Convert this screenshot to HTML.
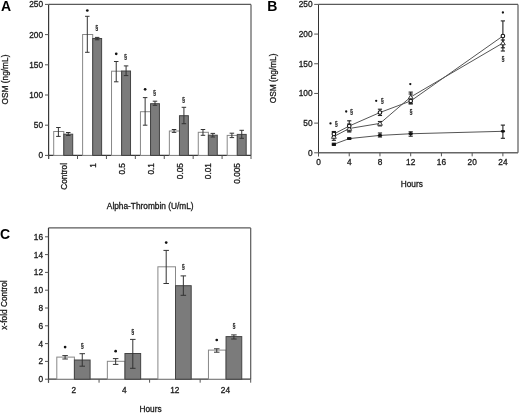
<!DOCTYPE html>
<html><head><meta charset="utf-8"><style>
html,body{margin:0;padding:0;background:#fff;}
svg{display:block;font-family:"Liberation Sans",sans-serif;filter:grayscale(1);}
</style></head><body>
<svg width="520" height="413" viewBox="0 0 520 413">
<rect width="520" height="413" fill="#fff"/>
<text x="0.90" y="11.30" font-size="14" font-weight="bold" text-anchor="start" fill="#000">A</text>
<line x1="48.60" y1="4.40" x2="251.00" y2="4.40" stroke="#5a5a5a" stroke-width="1.2"/>
<line x1="251.00" y1="4.40" x2="251.00" y2="155.40" stroke="#5a5a5a" stroke-width="1.2"/>
<line x1="48.60" y1="4.40" x2="48.60" y2="159.00" stroke="#383838" stroke-width="1.2"/>
<line x1="48.60" y1="155.40" x2="251.00" y2="155.40" stroke="#383838" stroke-width="1.2"/>
<line x1="45.00" y1="155.40" x2="48.60" y2="155.40" stroke="#555" stroke-width="1.0"/>
<text x="43.00" y="158.35" font-size="8.3" font-weight="normal" text-anchor="end" fill="#1a1a1a" stroke="#1a1a1a" stroke-width="0.3">0</text>
<line x1="45.00" y1="125.20" x2="48.60" y2="125.20" stroke="#555" stroke-width="1.0"/>
<text x="43.00" y="128.15" font-size="8.3" font-weight="normal" text-anchor="end" fill="#1a1a1a" stroke="#1a1a1a" stroke-width="0.3">50</text>
<line x1="45.00" y1="95.00" x2="48.60" y2="95.00" stroke="#555" stroke-width="1.0"/>
<text x="43.00" y="97.95" font-size="8.3" font-weight="normal" text-anchor="end" fill="#1a1a1a" stroke="#1a1a1a" stroke-width="0.3">100</text>
<line x1="45.00" y1="64.80" x2="48.60" y2="64.80" stroke="#555" stroke-width="1.0"/>
<text x="43.00" y="67.75" font-size="8.3" font-weight="normal" text-anchor="end" fill="#1a1a1a" stroke="#1a1a1a" stroke-width="0.3">150</text>
<line x1="45.00" y1="34.60" x2="48.60" y2="34.60" stroke="#555" stroke-width="1.0"/>
<text x="43.00" y="37.55" font-size="8.3" font-weight="normal" text-anchor="end" fill="#1a1a1a" stroke="#1a1a1a" stroke-width="0.3">200</text>
<line x1="45.00" y1="4.40" x2="48.60" y2="4.40" stroke="#555" stroke-width="1.0"/>
<text x="43.00" y="7.35" font-size="8.3" font-weight="normal" text-anchor="end" fill="#1a1a1a" stroke="#1a1a1a" stroke-width="0.3">250</text>
<line x1="48.60" y1="155.40" x2="48.60" y2="159.00" stroke="#555" stroke-width="1.0"/>
<line x1="77.51" y1="155.40" x2="77.51" y2="159.00" stroke="#555" stroke-width="1.0"/>
<line x1="106.43" y1="155.40" x2="106.43" y2="159.00" stroke="#555" stroke-width="1.0"/>
<line x1="135.34" y1="155.40" x2="135.34" y2="159.00" stroke="#555" stroke-width="1.0"/>
<line x1="164.26" y1="155.40" x2="164.26" y2="159.00" stroke="#555" stroke-width="1.0"/>
<line x1="193.17" y1="155.40" x2="193.17" y2="159.00" stroke="#555" stroke-width="1.0"/>
<line x1="222.09" y1="155.40" x2="222.09" y2="159.00" stroke="#555" stroke-width="1.0"/>
<line x1="251.00" y1="155.40" x2="251.00" y2="159.00" stroke="#555" stroke-width="1.0"/>
<text x="66.86" y="163.00" font-size="8.3" font-weight="normal" text-anchor="end" fill="#1a1a1a" stroke="#1a1a1a" stroke-width="0.3" transform="rotate(-90 66.86 163.00)">Control</text>
<text x="95.77" y="163.00" font-size="8.3" font-weight="normal" text-anchor="end" fill="#1a1a1a" stroke="#1a1a1a" stroke-width="0.3" transform="rotate(-90 95.77 163.00)">1</text>
<text x="124.69" y="163.00" font-size="8.3" font-weight="normal" text-anchor="end" fill="#1a1a1a" stroke="#1a1a1a" stroke-width="0.3" transform="rotate(-90 124.69 163.00)">0.5</text>
<text x="153.60" y="163.00" font-size="8.3" font-weight="normal" text-anchor="end" fill="#1a1a1a" stroke="#1a1a1a" stroke-width="0.3" transform="rotate(-90 153.60 163.00)">0.1</text>
<text x="182.51" y="163.00" font-size="8.3" font-weight="normal" text-anchor="end" fill="#1a1a1a" stroke="#1a1a1a" stroke-width="0.3" transform="rotate(-90 182.51 163.00)">0.05</text>
<text x="211.43" y="163.00" font-size="8.3" font-weight="normal" text-anchor="end" fill="#1a1a1a" stroke="#1a1a1a" stroke-width="0.3" transform="rotate(-90 211.43 163.00)">0.01</text>
<text x="240.34" y="163.00" font-size="8.3" font-weight="normal" text-anchor="end" fill="#1a1a1a" stroke="#1a1a1a" stroke-width="0.3" transform="rotate(-90 240.34 163.00)">0.005</text>
<text x="150.20" y="209.00" font-size="8.3" font-weight="normal" text-anchor="middle" fill="#1a1a1a" stroke="#1a1a1a" stroke-width="0.3">Alpha-Thrombin (U/mL)</text>
<text x="8.00" y="79.50" font-size="8.3" font-weight="normal" text-anchor="middle" fill="#1a1a1a" stroke="#1a1a1a" stroke-width="0.3" transform="rotate(-90 8.00 79.50)">OSM (ng/mL)</text>
<rect x="53.70" y="131.50" width="10.10" height="23.90" fill="#fff" stroke="#888" stroke-width="1.0"/>
<rect x="63.80" y="134.20" width="8.90" height="21.20" fill="#7b7b7b" stroke="#444" stroke-width="1.0"/>
<line x1="58.40" y1="127.50" x2="58.40" y2="136.40" stroke="#333" stroke-width="1.0"/>
<line x1="56.15" y1="127.50" x2="60.65" y2="127.50" stroke="#333" stroke-width="1.0"/>
<line x1="56.15" y1="136.40" x2="60.65" y2="136.40" stroke="#333" stroke-width="1.0"/>
<line x1="68.25" y1="132.50" x2="68.25" y2="135.50" stroke="#333" stroke-width="1.0"/>
<line x1="66.00" y1="132.50" x2="70.50" y2="132.50" stroke="#333" stroke-width="1.0"/>
<line x1="66.00" y1="135.50" x2="70.50" y2="135.50" stroke="#333" stroke-width="1.0"/>
<rect x="82.61" y="34.50" width="10.10" height="120.90" fill="#fff" stroke="#888" stroke-width="1.0"/>
<rect x="92.71" y="38.50" width="8.90" height="116.90" fill="#7b7b7b" stroke="#444" stroke-width="1.0"/>
<line x1="87.31" y1="16.30" x2="87.31" y2="52.30" stroke="#333" stroke-width="1.0"/>
<line x1="85.06" y1="16.30" x2="89.56" y2="16.30" stroke="#333" stroke-width="1.0"/>
<line x1="85.06" y1="52.30" x2="89.56" y2="52.30" stroke="#333" stroke-width="1.0"/>
<line x1="97.16" y1="37.40" x2="97.16" y2="39.80" stroke="#333" stroke-width="1.0"/>
<line x1="94.91" y1="37.40" x2="99.41" y2="37.40" stroke="#333" stroke-width="1.0"/>
<line x1="94.91" y1="39.80" x2="99.41" y2="39.80" stroke="#333" stroke-width="1.0"/>
<rect x="111.53" y="71.20" width="10.10" height="84.20" fill="#fff" stroke="#888" stroke-width="1.0"/>
<rect x="121.63" y="71.00" width="8.90" height="84.40" fill="#7b7b7b" stroke="#444" stroke-width="1.0"/>
<line x1="116.23" y1="61.50" x2="116.23" y2="81.80" stroke="#333" stroke-width="1.0"/>
<line x1="113.98" y1="61.50" x2="118.48" y2="61.50" stroke="#333" stroke-width="1.0"/>
<line x1="113.98" y1="81.80" x2="118.48" y2="81.80" stroke="#333" stroke-width="1.0"/>
<line x1="126.08" y1="65.90" x2="126.08" y2="75.60" stroke="#333" stroke-width="1.0"/>
<line x1="123.83" y1="65.90" x2="128.33" y2="65.90" stroke="#333" stroke-width="1.0"/>
<line x1="123.83" y1="75.60" x2="128.33" y2="75.60" stroke="#333" stroke-width="1.0"/>
<rect x="140.44" y="111.70" width="10.10" height="43.70" fill="#fff" stroke="#888" stroke-width="1.0"/>
<rect x="150.54" y="103.70" width="8.90" height="51.70" fill="#7b7b7b" stroke="#444" stroke-width="1.0"/>
<line x1="145.14" y1="97.60" x2="145.14" y2="125.20" stroke="#333" stroke-width="1.0"/>
<line x1="142.89" y1="97.60" x2="147.39" y2="97.60" stroke="#333" stroke-width="1.0"/>
<line x1="142.89" y1="125.20" x2="147.39" y2="125.20" stroke="#333" stroke-width="1.0"/>
<line x1="154.99" y1="101.20" x2="154.99" y2="105.30" stroke="#333" stroke-width="1.0"/>
<line x1="152.74" y1="101.20" x2="157.24" y2="101.20" stroke="#333" stroke-width="1.0"/>
<line x1="152.74" y1="105.30" x2="157.24" y2="105.30" stroke="#333" stroke-width="1.0"/>
<rect x="169.36" y="131.00" width="10.10" height="24.40" fill="#fff" stroke="#888" stroke-width="1.0"/>
<rect x="179.46" y="115.70" width="8.90" height="39.70" fill="#7b7b7b" stroke="#444" stroke-width="1.0"/>
<line x1="174.06" y1="129.50" x2="174.06" y2="132.40" stroke="#333" stroke-width="1.0"/>
<line x1="171.81" y1="129.50" x2="176.31" y2="129.50" stroke="#333" stroke-width="1.0"/>
<line x1="171.81" y1="132.40" x2="176.31" y2="132.40" stroke="#333" stroke-width="1.0"/>
<line x1="183.91" y1="107.30" x2="183.91" y2="123.70" stroke="#333" stroke-width="1.0"/>
<line x1="181.66" y1="107.30" x2="186.16" y2="107.30" stroke="#333" stroke-width="1.0"/>
<line x1="181.66" y1="123.70" x2="186.16" y2="123.70" stroke="#333" stroke-width="1.0"/>
<rect x="198.27" y="132.30" width="10.10" height="23.10" fill="#fff" stroke="#888" stroke-width="1.0"/>
<rect x="208.37" y="135.20" width="8.90" height="20.20" fill="#7b7b7b" stroke="#444" stroke-width="1.0"/>
<line x1="202.97" y1="129.50" x2="202.97" y2="135.30" stroke="#333" stroke-width="1.0"/>
<line x1="200.72" y1="129.50" x2="205.22" y2="129.50" stroke="#333" stroke-width="1.0"/>
<line x1="200.72" y1="135.30" x2="205.22" y2="135.30" stroke="#333" stroke-width="1.0"/>
<line x1="212.82" y1="133.40" x2="212.82" y2="137.00" stroke="#333" stroke-width="1.0"/>
<line x1="210.57" y1="133.40" x2="215.07" y2="133.40" stroke="#333" stroke-width="1.0"/>
<line x1="210.57" y1="137.00" x2="215.07" y2="137.00" stroke="#333" stroke-width="1.0"/>
<rect x="227.19" y="135.40" width="10.10" height="20.00" fill="#fff" stroke="#888" stroke-width="1.0"/>
<rect x="237.29" y="134.40" width="8.90" height="21.00" fill="#7b7b7b" stroke="#444" stroke-width="1.0"/>
<line x1="231.89" y1="133.20" x2="231.89" y2="137.60" stroke="#333" stroke-width="1.0"/>
<line x1="229.64" y1="133.20" x2="234.14" y2="133.20" stroke="#333" stroke-width="1.0"/>
<line x1="229.64" y1="137.60" x2="234.14" y2="137.60" stroke="#333" stroke-width="1.0"/>
<line x1="241.74" y1="130.30" x2="241.74" y2="138.30" stroke="#333" stroke-width="1.0"/>
<line x1="239.49" y1="130.30" x2="243.99" y2="130.30" stroke="#333" stroke-width="1.0"/>
<line x1="239.49" y1="138.30" x2="243.99" y2="138.30" stroke="#333" stroke-width="1.0"/>
<circle cx="87.31" cy="10.50" r="1.35" fill="#111"/>
<circle cx="116.23" cy="53.80" r="1.35" fill="#111"/>
<circle cx="145.14" cy="89.30" r="1.35" fill="#111"/>
<text transform="translate(96.66 30.04) scale(0.78 1)" x="0" y="0" font-size="7.0" text-anchor="middle" fill="#1a1a1a" stroke="#1a1a1a" stroke-width="0.25">§</text>
<text transform="translate(125.58 58.94) scale(0.78 1)" x="0" y="0" font-size="7.0" text-anchor="middle" fill="#1a1a1a" stroke="#1a1a1a" stroke-width="0.25">§</text>
<text transform="translate(154.49 95.44) scale(0.78 1)" x="0" y="0" font-size="7.0" text-anchor="middle" fill="#1a1a1a" stroke="#1a1a1a" stroke-width="0.25">§</text>
<text transform="translate(183.41 101.64) scale(0.78 1)" x="0" y="0" font-size="7.0" text-anchor="middle" fill="#1a1a1a" stroke="#1a1a1a" stroke-width="0.25">§</text>
<text x="267.30" y="11.20" font-size="14" font-weight="bold" text-anchor="start" fill="#000">B</text>
<line x1="318.50" y1="4.40" x2="518.00" y2="4.40" stroke="#5a5a5a" stroke-width="1.2"/>
<line x1="518.00" y1="4.40" x2="518.00" y2="152.80" stroke="#5a5a5a" stroke-width="1.2"/>
<line x1="318.50" y1="4.40" x2="318.50" y2="156.30" stroke="#333" stroke-width="1.0"/>
<line x1="318.50" y1="152.80" x2="518.00" y2="152.80" stroke="#666" stroke-width="1.5"/>
<line x1="314.20" y1="152.80" x2="318.50" y2="152.80" stroke="#555" stroke-width="1.0"/>
<text x="312.60" y="155.75" font-size="8.3" font-weight="normal" text-anchor="end" fill="#1a1a1a" stroke="#1a1a1a" stroke-width="0.3">0</text>
<line x1="314.20" y1="123.12" x2="318.50" y2="123.12" stroke="#555" stroke-width="1.0"/>
<text x="312.60" y="126.07" font-size="8.3" font-weight="normal" text-anchor="end" fill="#1a1a1a" stroke="#1a1a1a" stroke-width="0.3">50</text>
<line x1="314.20" y1="93.44" x2="318.50" y2="93.44" stroke="#555" stroke-width="1.0"/>
<text x="312.60" y="96.39" font-size="8.3" font-weight="normal" text-anchor="end" fill="#1a1a1a" stroke="#1a1a1a" stroke-width="0.3">100</text>
<line x1="314.20" y1="63.76" x2="318.50" y2="63.76" stroke="#555" stroke-width="1.0"/>
<text x="312.60" y="66.71" font-size="8.3" font-weight="normal" text-anchor="end" fill="#1a1a1a" stroke="#1a1a1a" stroke-width="0.3">150</text>
<line x1="314.20" y1="34.08" x2="318.50" y2="34.08" stroke="#555" stroke-width="1.0"/>
<text x="312.60" y="37.03" font-size="8.3" font-weight="normal" text-anchor="end" fill="#1a1a1a" stroke="#1a1a1a" stroke-width="0.3">200</text>
<line x1="314.20" y1="4.40" x2="318.50" y2="4.40" stroke="#555" stroke-width="1.0"/>
<text x="312.60" y="7.35" font-size="8.3" font-weight="normal" text-anchor="end" fill="#1a1a1a" stroke="#1a1a1a" stroke-width="0.3">250</text>
<line x1="318.50" y1="152.80" x2="318.50" y2="156.30" stroke="#555" stroke-width="1.0"/>
<text x="318.50" y="164.80" font-size="8.3" font-weight="normal" text-anchor="middle" fill="#1a1a1a" stroke="#1a1a1a" stroke-width="0.3">0</text>
<line x1="349.23" y1="152.80" x2="349.23" y2="156.30" stroke="#555" stroke-width="1.0"/>
<text x="349.23" y="164.80" font-size="8.3" font-weight="normal" text-anchor="middle" fill="#1a1a1a" stroke="#1a1a1a" stroke-width="0.3">4</text>
<line x1="379.96" y1="152.80" x2="379.96" y2="156.30" stroke="#555" stroke-width="1.0"/>
<text x="379.96" y="164.80" font-size="8.3" font-weight="normal" text-anchor="middle" fill="#1a1a1a" stroke="#1a1a1a" stroke-width="0.3">8</text>
<line x1="410.70" y1="152.80" x2="410.70" y2="156.30" stroke="#555" stroke-width="1.0"/>
<text x="410.70" y="164.80" font-size="8.3" font-weight="normal" text-anchor="middle" fill="#1a1a1a" stroke="#1a1a1a" stroke-width="0.3">12</text>
<line x1="441.43" y1="152.80" x2="441.43" y2="156.30" stroke="#555" stroke-width="1.0"/>
<text x="441.43" y="164.80" font-size="8.3" font-weight="normal" text-anchor="middle" fill="#1a1a1a" stroke="#1a1a1a" stroke-width="0.3">16</text>
<line x1="472.16" y1="152.80" x2="472.16" y2="156.30" stroke="#555" stroke-width="1.0"/>
<text x="472.16" y="164.80" font-size="8.3" font-weight="normal" text-anchor="middle" fill="#1a1a1a" stroke="#1a1a1a" stroke-width="0.3">20</text>
<line x1="502.89" y1="152.80" x2="502.89" y2="156.30" stroke="#555" stroke-width="1.0"/>
<text x="502.89" y="164.80" font-size="8.3" font-weight="normal" text-anchor="middle" fill="#1a1a1a" stroke="#1a1a1a" stroke-width="0.3">24</text>
<text x="411.80" y="186.50" font-size="8.3" font-weight="normal" text-anchor="middle" fill="#1a1a1a" stroke="#1a1a1a" stroke-width="0.3">Hours</text>
<text x="276.50" y="78.40" font-size="8.3" font-weight="normal" text-anchor="middle" fill="#1a1a1a" stroke="#1a1a1a" stroke-width="0.3" transform="rotate(-90 276.50 78.40)">OSM (ng/mL)</text>
<polyline fill="none" stroke="#555" stroke-width="1.0" points="333.87,134.00 349.23,126.00 379.96,112.50 410.70,101.00 502.89,36.00"/>
<polyline fill="none" stroke="#555" stroke-width="1.0" points="333.87,136.50 349.23,128.50 379.96,123.40 410.70,97.00 502.89,43.00"/>
<polyline fill="none" stroke="#555" stroke-width="1.0" points="333.87,144.30 349.23,138.60 379.96,135.40 410.70,133.75 502.89,131.30"/>
<line x1="333.87" y1="131.50" x2="333.87" y2="136.50" stroke="#222" stroke-width="1.1"/>
<line x1="331.77" y1="131.50" x2="335.97" y2="131.50" stroke="#222" stroke-width="1.1"/>
<line x1="331.77" y1="136.50" x2="335.97" y2="136.50" stroke="#222" stroke-width="1.1"/>
<line x1="349.23" y1="120.80" x2="349.23" y2="131.10" stroke="#222" stroke-width="1.1"/>
<line x1="347.13" y1="120.80" x2="351.33" y2="120.80" stroke="#222" stroke-width="1.1"/>
<line x1="347.13" y1="131.10" x2="351.33" y2="131.10" stroke="#222" stroke-width="1.1"/>
<line x1="379.96" y1="109.20" x2="379.96" y2="115.50" stroke="#222" stroke-width="1.1"/>
<line x1="377.86" y1="109.20" x2="382.06" y2="109.20" stroke="#222" stroke-width="1.1"/>
<line x1="377.86" y1="115.50" x2="382.06" y2="115.50" stroke="#222" stroke-width="1.1"/>
<line x1="410.70" y1="92.10" x2="410.70" y2="103.30" stroke="#222" stroke-width="1.1"/>
<line x1="408.60" y1="92.10" x2="412.80" y2="92.10" stroke="#222" stroke-width="1.1"/>
<line x1="408.60" y1="103.30" x2="412.80" y2="103.30" stroke="#222" stroke-width="1.1"/>
<line x1="502.89" y1="20.90" x2="502.89" y2="51.00" stroke="#222" stroke-width="1.1"/>
<line x1="500.79" y1="20.90" x2="504.99" y2="20.90" stroke="#222" stroke-width="1.1"/>
<line x1="500.79" y1="51.00" x2="504.99" y2="51.00" stroke="#222" stroke-width="1.1"/>
<line x1="333.87" y1="132.30" x2="333.87" y2="140.30" stroke="#222" stroke-width="1.1"/>
<line x1="331.77" y1="132.30" x2="335.97" y2="132.30" stroke="#222" stroke-width="1.1"/>
<line x1="331.77" y1="140.30" x2="335.97" y2="140.30" stroke="#222" stroke-width="1.1"/>
<line x1="349.23" y1="124.00" x2="349.23" y2="132.00" stroke="#222" stroke-width="1.1"/>
<line x1="347.13" y1="124.00" x2="351.33" y2="124.00" stroke="#222" stroke-width="1.1"/>
<line x1="347.13" y1="132.00" x2="351.33" y2="132.00" stroke="#222" stroke-width="1.1"/>
<line x1="379.96" y1="121.50" x2="379.96" y2="125.90" stroke="#222" stroke-width="1.1"/>
<line x1="377.86" y1="121.50" x2="382.06" y2="121.50" stroke="#222" stroke-width="1.1"/>
<line x1="377.86" y1="125.90" x2="382.06" y2="125.90" stroke="#222" stroke-width="1.1"/>
<line x1="410.70" y1="94.00" x2="410.70" y2="104.00" stroke="#222" stroke-width="1.1"/>
<line x1="408.60" y1="94.00" x2="412.80" y2="94.00" stroke="#222" stroke-width="1.1"/>
<line x1="408.60" y1="104.00" x2="412.80" y2="104.00" stroke="#222" stroke-width="1.1"/>
<line x1="502.89" y1="40.00" x2="502.89" y2="47.80" stroke="#222" stroke-width="1.1"/>
<line x1="500.79" y1="40.00" x2="504.99" y2="40.00" stroke="#222" stroke-width="1.1"/>
<line x1="500.79" y1="47.80" x2="504.99" y2="47.80" stroke="#222" stroke-width="1.1"/>
<line x1="333.87" y1="143.20" x2="333.87" y2="145.40" stroke="#222" stroke-width="1.1"/>
<line x1="331.77" y1="143.20" x2="335.97" y2="143.20" stroke="#222" stroke-width="1.1"/>
<line x1="331.77" y1="145.40" x2="335.97" y2="145.40" stroke="#222" stroke-width="1.1"/>
<line x1="349.23" y1="137.80" x2="349.23" y2="139.40" stroke="#222" stroke-width="1.1"/>
<line x1="347.13" y1="137.80" x2="351.33" y2="137.80" stroke="#222" stroke-width="1.1"/>
<line x1="347.13" y1="139.40" x2="351.33" y2="139.40" stroke="#222" stroke-width="1.1"/>
<line x1="379.96" y1="133.00" x2="379.96" y2="137.00" stroke="#222" stroke-width="1.1"/>
<line x1="377.86" y1="133.00" x2="382.06" y2="133.00" stroke="#222" stroke-width="1.1"/>
<line x1="377.86" y1="137.00" x2="382.06" y2="137.00" stroke="#222" stroke-width="1.1"/>
<line x1="410.70" y1="131.80" x2="410.70" y2="136.20" stroke="#222" stroke-width="1.1"/>
<line x1="408.60" y1="131.80" x2="412.80" y2="131.80" stroke="#222" stroke-width="1.1"/>
<line x1="408.60" y1="136.20" x2="412.80" y2="136.20" stroke="#222" stroke-width="1.1"/>
<line x1="502.89" y1="125.10" x2="502.89" y2="138.30" stroke="#222" stroke-width="1.1"/>
<line x1="500.79" y1="125.10" x2="504.99" y2="125.10" stroke="#222" stroke-width="1.1"/>
<line x1="500.79" y1="138.30" x2="504.99" y2="138.30" stroke="#222" stroke-width="1.1"/>
<polygon points="333.87,134.30 336.27,138.30 331.47,138.30" fill="#fff" stroke="#222" stroke-width="0.9"/>
<polygon points="349.23,126.30 351.63,130.30 346.83,130.30" fill="#fff" stroke="#222" stroke-width="0.9"/>
<polygon points="379.96,121.20 382.36,125.20 377.56,125.20" fill="#fff" stroke="#222" stroke-width="0.9"/>
<polygon points="410.70,94.80 413.10,98.80 408.30,98.80" fill="#fff" stroke="#222" stroke-width="0.9"/>
<polygon points="502.89,40.80 505.29,44.80 500.49,44.80" fill="#fff" stroke="#222" stroke-width="0.9"/>
<circle cx="333.87" cy="134.00" r="1.8" fill="#fff" stroke="#111" stroke-width="1.1"/>
<circle cx="349.23" cy="126.00" r="1.8" fill="#fff" stroke="#111" stroke-width="1.1"/>
<circle cx="379.96" cy="112.50" r="1.8" fill="#fff" stroke="#111" stroke-width="1.1"/>
<circle cx="410.70" cy="101.00" r="1.8" fill="#fff" stroke="#111" stroke-width="1.1"/>
<circle cx="502.89" cy="36.00" r="1.8" fill="#fff" stroke="#111" stroke-width="1.1"/>
<ellipse cx="333.87" cy="144.30" rx="2.3" ry="1.4" fill="#111"/>
<ellipse cx="349.23" cy="138.60" rx="2.3" ry="1.4" fill="#111"/>
<ellipse cx="379.96" cy="135.40" rx="2.3" ry="1.4" fill="#111"/>
<ellipse cx="410.70" cy="133.75" rx="2.3" ry="1.4" fill="#111"/>
<ellipse cx="502.89" cy="131.30" rx="2.3" ry="1.4" fill="#111"/>
<circle cx="330.50" cy="123.40" r="1.15" fill="#111"/>
<circle cx="346.20" cy="111.50" r="1.15" fill="#111"/>
<circle cx="376.20" cy="100.80" r="1.15" fill="#111"/>
<circle cx="410.30" cy="84.10" r="1.15" fill="#111"/>
<circle cx="502.90" cy="12.50" r="1.15" fill="#111"/>
<text transform="translate(336.30 125.64) scale(0.78 1)" x="0" y="0" font-size="7.0" text-anchor="middle" fill="#1a1a1a" stroke="#1a1a1a" stroke-width="0.25">§</text>
<text transform="translate(351.50 114.14) scale(0.78 1)" x="0" y="0" font-size="7.0" text-anchor="middle" fill="#1a1a1a" stroke="#1a1a1a" stroke-width="0.25">§</text>
<text transform="translate(382.30 102.84) scale(0.78 1)" x="0" y="0" font-size="7.0" text-anchor="middle" fill="#1a1a1a" stroke="#1a1a1a" stroke-width="0.25">§</text>
<text transform="translate(411.00 114.24) scale(0.78 1)" x="0" y="0" font-size="7.0" text-anchor="middle" fill="#1a1a1a" stroke="#1a1a1a" stroke-width="0.25">§</text>
<text transform="translate(502.90 61.44) scale(0.78 1)" x="0" y="0" font-size="7.0" text-anchor="middle" fill="#1a1a1a" stroke="#1a1a1a" stroke-width="0.25">§</text>
<text x="0.00" y="238.50" font-size="14" font-weight="bold" text-anchor="start" fill="#000">C</text>
<line x1="48.50" y1="227.90" x2="250.70" y2="227.90" stroke="#5a5a5a" stroke-width="1.2"/>
<line x1="250.70" y1="227.90" x2="250.70" y2="379.20" stroke="#5a5a5a" stroke-width="1.2"/>
<line x1="48.50" y1="227.90" x2="48.50" y2="382.70" stroke="#383838" stroke-width="1.2"/>
<line x1="48.50" y1="379.20" x2="250.70" y2="379.20" stroke="#383838" stroke-width="1.2"/>
<line x1="45.00" y1="379.20" x2="48.50" y2="379.20" stroke="#555" stroke-width="1.0"/>
<text x="43.00" y="382.15" font-size="8.3" font-weight="normal" text-anchor="end" fill="#1a1a1a" stroke="#1a1a1a" stroke-width="0.3">0</text>
<line x1="45.00" y1="361.40" x2="48.50" y2="361.40" stroke="#555" stroke-width="1.0"/>
<text x="43.00" y="364.35" font-size="8.3" font-weight="normal" text-anchor="end" fill="#1a1a1a" stroke="#1a1a1a" stroke-width="0.3">2</text>
<line x1="45.00" y1="343.60" x2="48.50" y2="343.60" stroke="#555" stroke-width="1.0"/>
<text x="43.00" y="346.55" font-size="8.3" font-weight="normal" text-anchor="end" fill="#1a1a1a" stroke="#1a1a1a" stroke-width="0.3">4</text>
<line x1="45.00" y1="325.80" x2="48.50" y2="325.80" stroke="#555" stroke-width="1.0"/>
<text x="43.00" y="328.75" font-size="8.3" font-weight="normal" text-anchor="end" fill="#1a1a1a" stroke="#1a1a1a" stroke-width="0.3">6</text>
<line x1="45.00" y1="308.00" x2="48.50" y2="308.00" stroke="#555" stroke-width="1.0"/>
<text x="43.00" y="310.95" font-size="8.3" font-weight="normal" text-anchor="end" fill="#1a1a1a" stroke="#1a1a1a" stroke-width="0.3">8</text>
<line x1="45.00" y1="290.20" x2="48.50" y2="290.20" stroke="#555" stroke-width="1.0"/>
<text x="43.00" y="293.15" font-size="8.3" font-weight="normal" text-anchor="end" fill="#1a1a1a" stroke="#1a1a1a" stroke-width="0.3">10</text>
<line x1="45.00" y1="272.40" x2="48.50" y2="272.40" stroke="#555" stroke-width="1.0"/>
<text x="43.00" y="275.35" font-size="8.3" font-weight="normal" text-anchor="end" fill="#1a1a1a" stroke="#1a1a1a" stroke-width="0.3">12</text>
<line x1="45.00" y1="254.60" x2="48.50" y2="254.60" stroke="#555" stroke-width="1.0"/>
<text x="43.00" y="257.55" font-size="8.3" font-weight="normal" text-anchor="end" fill="#1a1a1a" stroke="#1a1a1a" stroke-width="0.3">14</text>
<line x1="45.00" y1="236.80" x2="48.50" y2="236.80" stroke="#555" stroke-width="1.0"/>
<text x="43.00" y="239.75" font-size="8.3" font-weight="normal" text-anchor="end" fill="#1a1a1a" stroke="#1a1a1a" stroke-width="0.3">16</text>
<line x1="48.50" y1="379.20" x2="48.50" y2="382.70" stroke="#555" stroke-width="1.0"/>
<line x1="99.05" y1="379.20" x2="99.05" y2="382.70" stroke="#555" stroke-width="1.0"/>
<line x1="149.60" y1="379.20" x2="149.60" y2="382.70" stroke="#555" stroke-width="1.0"/>
<line x1="200.15" y1="379.20" x2="200.15" y2="382.70" stroke="#555" stroke-width="1.0"/>
<line x1="250.70" y1="379.20" x2="250.70" y2="382.70" stroke="#555" stroke-width="1.0"/>
<text x="73.78" y="392.80" font-size="8.3" font-weight="normal" text-anchor="middle" fill="#1a1a1a" stroke="#1a1a1a" stroke-width="0.3">2</text>
<text x="124.32" y="392.80" font-size="8.3" font-weight="normal" text-anchor="middle" fill="#1a1a1a" stroke="#1a1a1a" stroke-width="0.3">4</text>
<text x="174.88" y="392.80" font-size="8.3" font-weight="normal" text-anchor="middle" fill="#1a1a1a" stroke="#1a1a1a" stroke-width="0.3">12</text>
<text x="225.42" y="392.80" font-size="8.3" font-weight="normal" text-anchor="middle" fill="#1a1a1a" stroke="#1a1a1a" stroke-width="0.3">24</text>
<text x="150.50" y="411.50" font-size="8.3" font-weight="normal" text-anchor="middle" fill="#1a1a1a" stroke="#1a1a1a" stroke-width="0.3">Hours</text>
<text x="7.30" y="305.00" font-size="8.3" font-weight="normal" text-anchor="middle" fill="#1a1a1a" stroke="#1a1a1a" stroke-width="0.3" transform="rotate(-90 7.30 305.00)">x-fold Control</text>
<rect x="56.80" y="357.10" width="17.60" height="22.10" fill="#fff" stroke="#888" stroke-width="1.0"/>
<rect x="74.40" y="360.00" width="15.70" height="19.20" fill="#7b7b7b" stroke="#444" stroke-width="1.0"/>
<line x1="65.10" y1="355.60" x2="65.10" y2="359.00" stroke="#333" stroke-width="1.0"/>
<line x1="62.35" y1="355.60" x2="67.85" y2="355.60" stroke="#333" stroke-width="1.0"/>
<line x1="62.35" y1="359.00" x2="67.85" y2="359.00" stroke="#333" stroke-width="1.0"/>
<line x1="82.25" y1="353.70" x2="82.25" y2="366.20" stroke="#333" stroke-width="1.0"/>
<line x1="79.50" y1="353.70" x2="85.00" y2="353.70" stroke="#333" stroke-width="1.0"/>
<line x1="79.50" y1="366.20" x2="85.00" y2="366.20" stroke="#333" stroke-width="1.0"/>
<rect x="107.35" y="361.30" width="17.60" height="17.90" fill="#fff" stroke="#888" stroke-width="1.0"/>
<rect x="124.95" y="353.50" width="15.70" height="25.70" fill="#7b7b7b" stroke="#444" stroke-width="1.0"/>
<line x1="115.65" y1="358.60" x2="115.65" y2="364.40" stroke="#333" stroke-width="1.0"/>
<line x1="112.90" y1="358.60" x2="118.40" y2="358.60" stroke="#333" stroke-width="1.0"/>
<line x1="112.90" y1="364.40" x2="118.40" y2="364.40" stroke="#333" stroke-width="1.0"/>
<line x1="132.80" y1="339.40" x2="132.80" y2="368.30" stroke="#333" stroke-width="1.0"/>
<line x1="130.05" y1="339.40" x2="135.55" y2="339.40" stroke="#333" stroke-width="1.0"/>
<line x1="130.05" y1="368.30" x2="135.55" y2="368.30" stroke="#333" stroke-width="1.0"/>
<rect x="157.90" y="266.80" width="17.60" height="112.40" fill="#fff" stroke="#888" stroke-width="1.0"/>
<rect x="175.50" y="285.70" width="15.70" height="93.50" fill="#7b7b7b" stroke="#444" stroke-width="1.0"/>
<line x1="166.20" y1="250.40" x2="166.20" y2="283.50" stroke="#333" stroke-width="1.0"/>
<line x1="163.45" y1="250.40" x2="168.95" y2="250.40" stroke="#333" stroke-width="1.0"/>
<line x1="163.45" y1="283.50" x2="168.95" y2="283.50" stroke="#333" stroke-width="1.0"/>
<line x1="183.35" y1="275.90" x2="183.35" y2="295.30" stroke="#333" stroke-width="1.0"/>
<line x1="180.60" y1="275.90" x2="186.10" y2="275.90" stroke="#333" stroke-width="1.0"/>
<line x1="180.60" y1="295.30" x2="186.10" y2="295.30" stroke="#333" stroke-width="1.0"/>
<rect x="208.45" y="350.10" width="17.60" height="29.10" fill="#fff" stroke="#888" stroke-width="1.0"/>
<rect x="226.05" y="336.60" width="15.70" height="42.60" fill="#7b7b7b" stroke="#444" stroke-width="1.0"/>
<line x1="216.75" y1="348.80" x2="216.75" y2="352.20" stroke="#333" stroke-width="1.0"/>
<line x1="214.00" y1="348.80" x2="219.50" y2="348.80" stroke="#333" stroke-width="1.0"/>
<line x1="214.00" y1="352.20" x2="219.50" y2="352.20" stroke="#333" stroke-width="1.0"/>
<line x1="233.90" y1="334.90" x2="233.90" y2="339.00" stroke="#333" stroke-width="1.0"/>
<line x1="231.15" y1="334.90" x2="236.65" y2="334.90" stroke="#333" stroke-width="1.0"/>
<line x1="231.15" y1="339.00" x2="236.65" y2="339.00" stroke="#333" stroke-width="1.0"/>
<circle cx="65.10" cy="347.10" r="1.35" fill="#111"/>
<circle cx="115.65" cy="351.20" r="1.35" fill="#111"/>
<circle cx="166.20" cy="242.60" r="1.35" fill="#111"/>
<circle cx="216.75" cy="340.00" r="1.35" fill="#111"/>
<text transform="translate(82.25 347.54) scale(0.78 1)" x="0" y="0" font-size="7.0" text-anchor="middle" fill="#1a1a1a" stroke="#1a1a1a" stroke-width="0.25">§</text>
<text transform="translate(132.80 333.64) scale(0.78 1)" x="0" y="0" font-size="7.0" text-anchor="middle" fill="#1a1a1a" stroke="#1a1a1a" stroke-width="0.25">§</text>
<text transform="translate(183.35 268.74) scale(0.78 1)" x="0" y="0" font-size="7.0" text-anchor="middle" fill="#1a1a1a" stroke="#1a1a1a" stroke-width="0.25">§</text>
<text transform="translate(233.90 327.74) scale(0.78 1)" x="0" y="0" font-size="7.0" text-anchor="middle" fill="#1a1a1a" stroke="#1a1a1a" stroke-width="0.25">§</text>
</svg>
</body></html>
